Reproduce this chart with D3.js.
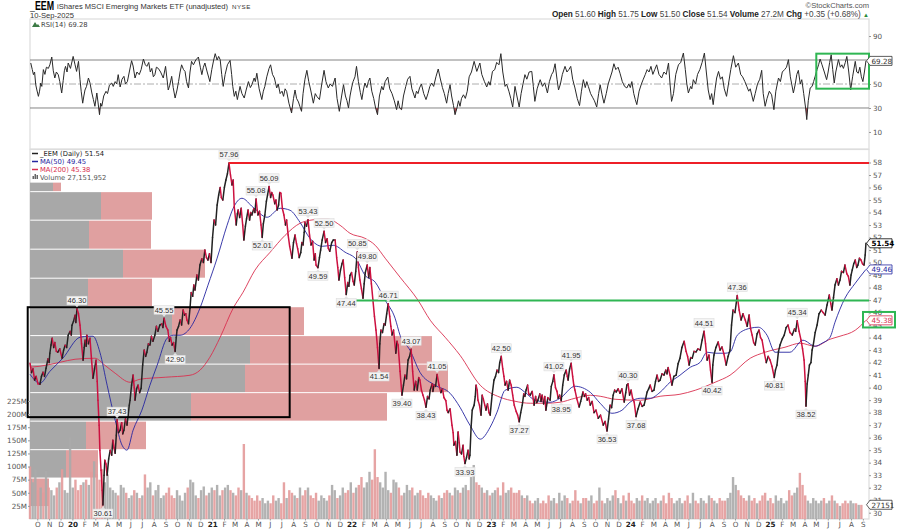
<!DOCTYPE html>
<html>
<head>
<meta charset="utf-8">
<script src="https://cdn.jsdelivr.net/npm/d3@7"></script>
<style>
  body { margin: 0; background: #fff; }
  svg { display: block; font-family: "Liberation Sans", sans-serif; }
  .tick text { font-family: "DejaVu Sans", sans-serif; font-size: 7.2px; fill: #555; }
  .tick line { stroke: #999; }
</style>
</head>
<body>
<svg id="chart" width="918" height="532"></svg>
<script>
// all series are [days since 12-Sep-2019, value]
const priceSeries = [[0,41.95],[4,41.2],[8,41.5],[12,40.6],[16,40.9],[21,40.3],[26,40.27],[30,40.9],[34,41.23],[38,40.9],[42,41.55],[47,42.3],[50,42.0],[52,42.75],[55,43.4],[58,43.95],[62,43.2],[65,43.6],[69,42.9],[73,42.83],[78,43.1],[84,42.35],[88,43.0],[92,43.39],[96,43.2],[100,44.19],[105,44.5],[108,44.2],[110,44.99],[114,45.3],[118,45.79],[120,45.2],[123,46.3],[127,45.9],[131,44.99],[135,43.5],[139,42.19],[142,43.2],[144,43.79],[147,43.3],[149,44.19],[153,43.5],[157,43.95],[161,42.3],[165,40.75],[169,41.5],[173,42.19],[176,40.5],[178,38.99],[181,37.0],[183,34.99],[186,33.4],[189,31.8],[191,30.61],[194,33.0],[196,34.2],[199,33.9],[202,33],[206,34.3],[210,35],[214,34.6],[217,35.8],[220,35.2],[223,34.75],[226,36.2],[228,37.43],[232,36.4],[236,36.6],[240,37.2],[243,36.3],[246,36.6],[250,37.5],[254,37.0],[257,37.8],[260,38.6],[262,39],[266,40.2],[270,41],[273,40.0],[275,39],[279,39.9],[283,40.2],[287,39.6],[291,39.95],[295,41.8],[299,43],[303,42.5],[306,42.83],[310,43.5],[314,43.4],[318,44.1],[322,43.7],[327,44.2],[331,44.9],[335,44.5],[340,45],[345,45.1],[348,44.8],[351,45.55],[356,44.9],[361,44.6],[365,43.7],[368,44.0],[372,43.4],[376,43.6],[380,42.9],[383,44.0],[385,44.6],[389,44.9],[393,45.4],[397,45.0],[401,46.2],[405,45.8],[408,45.9],[411,45.4],[415,45.1],[419,46.35],[422,47.6],[426,47.3],[429,48.2],[432,47.8],[437,49],[441,48.6],[445,49.8],[450,50.3],[454,50.0],[458,51],[462,50.4],[466,50.2],[470,50.7],[474,50],[478,52],[482,53.4],[486,53.0],[490,54.6],[494,55.4],[498,56],[501,55.2],[505,55],[509,56],[513,56.6],[517,57.1],[521,57.96],
  [525,57.0],[529,56.2],[532,56.6],[535,54.4],[540,53],[543,53.9],[545,54.2],[549,53.6],[553,54.35],[557,53.0],[560,51.8],[564,52.9],[567,53.5],[571,54.2],[575,53.4],[578,54.0],[581,53.8],[586,54.3],[589,54.0],[592,55.08],[595,54.2],[597,53.8],[601,54.1],[605,53.0],[608,52.01],[611,53.1],[615,53.8],[619,54.9],[622,55.4],[626,56.09],[630,55.2],[633,55.6],[636,55.4],[641,54.7],[644,55.0],[647,54.2],[651,54.6],[654,55.6],[657,55.55],[661,54.3],[665,53.8],[669,53.0],[672,53.4],[676,52.2],[680,51.3],[686,50.35],[690,51.6],[694,52.2],[698,51.5],[701,51.1],[705,50.4],[709,50.8],[712,51.6],[715,51.4],[718,52.4],[720,53.2],[724,52.9],[728,53.43],[732,52.2],[736,51.4],[740,51.7],[744,50.2],[747,50.7],[749,49.8],[754,49.59],[758,50.4],[761,51.0],[765,51.8],[770,52.5],[774,51.6],[778,51.9],[781,51.15],[785,50.9],[790,51.6],[794,51.8],[799,51.8],[803,50.4],[806,49.6],[809,48.6],[813,49.4],[817,49.9],[820,50.2],[824,48.8],[828,47.44],[832,48.4],[835,48.1],[838,48.97],[842,49.2],[846,48.5],[849,48.2],[853,49.3],[857,50.85],[860,49.6],[864,48.6],[868,47.9],[872,47.15],[875,48.3],[878,49.2],[883,49.8],[887,48.8],[890,49.6],[894,48.3],[898,47],[902,45.7],[906,44.6],[910,43.2],[914,41.54],[916,43.5],[919,44.6],[923,44.4],[927,45.1],[930,45],[934,45.9],[938,46.71],[942,45.7],[945,44.9],[948,44.2],[952,44.6],[958,42.75],[961,43.7],[964,43.4],[969,41.3],[974,39.4],[978,40.2],[982,41],[986,40.7],[990,42.2],[994,42.5],[998,43.07],[1002,41.3],[1006,39.8],[1010,40.5],[1014,39.8],[1018,40.8],[1021,40.6],[1025,39.8],[1029,39.4],[1033,39.0],[1037,38.43],[1041,39.3],[1045,39.1],[1048,39.8],[1053,40.3],[1055,39.7],[1058,40.2],[1062,40.1],[1066,41.05],[1071,40.2],[1076,39.6],[1080,39.9],[1084,39.2],[1089,38.95],[1092,38.2],[1095,38],[1100,38.3],[1105,37],[1108,36.4],[1110,35.4],[1114,35.7],[1118,34.6],[1121,36.45],[1124,35.6],[1126,34.85],[1130,34.7],[1134,35.4],[1136,34.5],[1139,33.93],[1143,34.4],[1147,35],[1150,34.3],[1152,34.6],[1155,36.8],[1158,38.2],[1163,38.6],[1166,39.3],[1168,40.2],[1171,39.8],[1173,39],[1177,38.6],[1181,37.8],[1184,39.4],[1187,39.1],[1191,38.6],[1194,38.2],[1198,38.7],[1202,38.0],[1205,37.8],[1210,39.4],[1215,40.6],[1219,40.9],[1223,41.4],[1227,41.2],[1230,42.0],[1234,42.5],
  [1238,41.5],[1241,40.9],[1244,40.2],[1248,40.5],[1252,39.8],[1256,40.6],[1260,40.2],[1264,39.4],[1268,38.6],[1273,38.1],[1277,37.8],[1281,37.27],[1285,38.0],[1289,38.6],[1293,39.5],[1296,39.3],[1299,39.8],[1303,40.2],[1306,39.5],[1310,39.4],[1315,39.7],[1320,38.6],[1324,39.3],[1327,38.8],[1330,39],[1335,39.5],[1338,38.9],[1341,39.4],[1345,38.7],[1348,39.3],[1351,38.2],[1356,39.2],[1362,39],[1365,40.1],[1369,40.5],[1372,41.02],[1376,40.0],[1380,39.7],[1383,39.15],[1387,39.4],[1391,38.95],[1395,40.2],[1399,41],[1404,41.4],[1407,40.9],[1409,40.6],[1413,41.5],[1417,41.95],[1421,40.9],[1424,40.2],[1427,39.8],[1432,39.1],[1438,38.45],[1442,38.9],[1448,39.65],[1452,39.3],[1455,39.5],[1459,39],[1463,39.2],[1467,38.6],[1472,38.9],[1477,38],[1482,38.2],[1488,37.55],[1494,37.8],[1501,37],[1506,37.3],[1511,36.53],[1515,37.5],[1519,38.6],[1523,38.4],[1527,39.4],[1531,39.8],[1535,39.65],[1540,39.9],[1545,39.55],[1550,39.9],[1556,38.85],[1560,39.6],[1563,40.2],[1566,40.3],[1570,39.4],[1574,39.8],[1578,39.15],[1582,38.85],[1587,37.68],[1592,38.3],[1598,38.85],[1603,38.5],[1608,38.6],[1612,39.1],[1616,39.65],[1620,39.9],[1624,40.2],[1629,39.7],[1634,39.8],[1638,40.5],[1642,41],[1646,40.5],[1650,40.6],[1655,41.1],[1660,41],[1665,41.4],[1668,41.1],[1671,41.6],[1676,41],[1681,40.2],[1686,40.9],[1692,41],[1697,41.9],[1702,42.35],[1707,43.2],[1713,43.7],[1718,42.9],[1722,42.5],[1726,41.8],[1730,42.4],[1734,42.35],[1739,42.9],[1744,42.85],[1749,43.1],[1755,43],[1760,43.8],[1765,44.51],[1769,43.5],[1773,42.2],[1778,42.6],[1782,41.4],[1786,40.42],[1788,41.8],[1791,42.6],[1796,43.2],[1802,43.65],[1807,43.0],[1812,43.25],[1817,42.7],[1823,41.8],[1828,42.5],[1833,43],[1837,45],[1841,46.2],[1846,46.0],[1852,47.36],[1857,46.2],[1862,45.4],[1867,45.9],[1873,45.4],[1878,44.9],[1883,45.8],[1887,44.7],[1891,44.2],[1895,43.6],[1899,43.4],[1904,44.3],[1909,44.6],[1913,44.0],[1917,43.8],[1922,42.9],[1928,42],[1933,42.5],[1938,42.2],[1943,41.7],[1949,40.81],[1952,41.4],[1956,41.8],[1960,42.9],[1964,43.4],[1970,43.9],[1975,44.2],[1980,44.8],[1985,45],[1990,44.4],[1996,44.2],[2002,44.7],[2005,44.5],[2009,45.34],[2014,44.5],[2019,43.8],[2023,43.1],[2027,42.2],[2030,40.5],[2032,38.52],[2035,40.3],[2038,41],[2041,41.8],[2045,42],[2048,43],[2051,43.4],[2056,44.4],[2061,45],[2066,45.9],[2072,46.2],[2077,46.0],[2082,45.8],[2087,46.6],[2093,47.4],[2097,46.7],[2100,46.2],[2104,47.2],[2108,48.2],[2113,48.7],[2117,48.2],[2121,48.6],[2125,49.3],[2130,49.2],[2134,49.8],[2139,49.1],[2143,48.9],[2147,48.2],[2150,49],[2153,49.4],[2157,49.9],[2161,50.2],[2165,49.6],[2168,49.8],[2172,50.35],[2176,50.2],[2180,49.9],[2184,49.8],[2187,50.6],[2189,51.54]];

const ma50Series = [[0,41.07],[26,40.35],[52,41.3],[86,42.35],[131,44.03],[155,44.11],[165,44.11],[183,42.83],[202,40.19],[223,37.4],[241,35.4],[254,35],[270,36.6],[293,38.2],[314,40.19],[333,41.79],[359,43.95],[375,44.19],[393,44.19],[419,44.75],[445,46.35],[466,48.19],[490,50.35],[516,52.98],[532,54.34],[555,55.14],[584,54.42],[621,53.62],[655,54.34],[681,54.18],[707,53.22],[733,51.94],[765,51.3],[794,51.38],[825,50.83],[856,50.19],[877,48.99],[904,48.43],[930,46.99],[956,45.55],[969,44.19],[995,42.99],[1021,41.23],[1061,40.19],[1100,39.55],[1126,38.43],[1152,37],[1179,35.88],[1205,36.84],[1223,38.04],[1244,39.79],[1275,40.03],[1296,39.63],[1323,38.99],[1362,38.83],[1388,39.15],[1427,40.11],[1467,39.63],[1493,38.75],[1524,37.95],[1550,38.19],[1571,38.83],[1598,39.15],[1624,39.15],[1650,39.63],[1676,40.43],[1702,40.99],[1729,41.63],[1755,42.03],[1773,42.83],[1794,42.75],[1820,42.75],[1833,42.83],[1852,44.19],[1886,44.75],[1907,44.83],[1930,44.19],[1951,42.83],[1990,42.83],[2024,43.79],[2056,43.31],[2074,43.55],[2095,44.03],[2108,45.23],[2134,47.15],[2161,48.35],[2189,49.45]];

const ma200Series = [[0,41.63],[26,41.71],[79,42.03],[118,42.27],[170,42.35],[196,41.79],[223,41.15],[262,40.43],[288,40.67],[354,40.83],[419,40.99],[445,41.39],[471,42.43],[498,44.03],[532,46.35],[558,47.63],[589,49.39],[629,50.83],[668,52.18],[707,53.14],[733,53.38],[760,53.46],[781,53.46],[812,52.98],[838,52.34],[877,51.94],[904,51.38],[930,50.35],[969,48.83],[1016,46.99],[1048,45.39],[1087,44.03],[1126,42.59],[1179,40.19],[1231,39.23],[1270,38.91],[1310,38.75],[1349,38.75],[1388,38.83],[1427,39.15],[1467,39.39],[1493,39.31],[1532,39.07],[1598,38.99],[1650,39.31],[1702,39.47],[1742,39.79],[1794,40.43],[1833,40.99],[1886,42.35],[1925,42.83],[1977,43.23],[2017,43.55],[2056,43.31],[2095,43.87],[2121,44.11],[2161,44.59],[2189,45.38]];

const rsiSeries = [[2,67.5],[6,62],[9,57.8],[12,60],[15,49.4],[18,45],[22,39.7],[25,44],[28,50.8],[31,48],[35,62],[39,58],[43,64],[48,63],[52,66],[57,72.5],[61,61],[65,55],[69,60],[74,57.8],[78,52],[83,42.5],[87,53],[90,61],[93,64.7],[97,60],[100,67.5],[106,63],[113,73],[118,66],[122,60.5],[127,68.9],[131,53.6],[134,44],[138,34],[141,40],[144,45],[148,48],[153,55],[157,51],[162,42.5],[166,37],[170,31.4],[175,42.5],[178,35],[182,24.4],[185,34],[188,31.4],[193,40],[199,43.9],[203,42],[208,49],[214,50.8],[218,48],[223,52],[227,50],[231,57.8],[236,47.5],[241,54],[246,56.4],[250,50],[255,52],[260,60],[266,69.4],[270,65],[275,55],[280,60],[286,57.8],[291,62],[297,70.8],[302,66],[306,64.7],[311,68],[315,60],[319,63],[323,56],[327,57.8],[331,64],[336,63],[342,60],[349,55],[355,64.7],[362,45],[366,49],[371,56.4],[375,47],[380,38.3],[385,45],[389,52],[393,60],[397,66],[402,62],[406,60.5],[410,52],[415,46.7],[419,60],[423,68.9],[428,66],[434,70],[441,72.5],[446,64],[450,57.8],[454,64],[458,67.5],[464,60],[471,52],[476,62],[481,70],[485,75.3],[490,70],[494,73],[498,70.3],[502,58],[506,48],[511,58],[517,66],[524,69.7],[528,58],[531,48],[535,39.7],[539,44],[543,37],[550,48],[555,42],[561,38.3],[566,45],[572,52],[577,47],[581,49.4],[587,55],[590,52],[594,59],[600,46],[607,37],[611,44],[615,48],[620,56],[626,63],[630,66],[635,58],[640,55],[646,46.7],[650,50],[655,42],[660,44],[664,39.7],[668,46],[672,43.9],[678,34],[685,25.8],[690,38],[694,45],[698,38],[703,35],[707,31],[711,27.2],[715,42],[720,54],[725,61.4],[730,52],[735,45],[742,34],[747,42],[751,39.7],[758,37],[764,50],[770,61.4],[775,52],[781,46.7],[786,50],[792,48],[799,55],[804,38],[810,27.2],[816,40],[821,49.4],[826,40],[830,36],[834,30],[838,40],[842,46.7],[846,52],[851,56],[855,64.7],[860,52],[865,43],[869,37],[873,45],[877,50.8],[882,47],[886,52],[890,55],[895,44],[900,38],[905,30],[910,24.4],[915,40],[921,48],[925,45],[930,52],[937,55.8],[942,46],[948,42],[954,36],[960,28.6],[964,36],[968,30],[973,28.6],[978,40],[984,48],[989,54],[995,56.4],[1000,46],[1008,38.3],[1012,44],[1016,42],[1020,46.7],[1025,50],[1031,42],[1037,37],[1042,42],[1047,48],[1052,50.8],[1057,48],[1063,56],[1069,62.5],[1074,55],[1080,47],[1085,42],[1091,34],[1095,42],[1100,49.4],[1104,40],[1109,32],[1113,24.4],[1118,30],[1122,36],[1126,31.4],
  [1130,38],[1135,41],[1140,38],[1145,44],[1150,56],[1156,60],[1163,68.9],[1170,60.5],[1178,67.5],[1183,58],[1190,52],[1196,47.5],[1201,52],[1205,49],[1211,60.5],[1217,62],[1222,68],[1228,66],[1233,75.3],[1238,60],[1244,48],[1248,50],[1254,44],[1259,38],[1264,30.8],[1270,48],[1275,40],[1281,30.8],[1286,42],[1291,50],[1296,57.8],[1301,54],[1307,60],[1314,60.5],[1318,48],[1322,35.5],[1328,46],[1332,50],[1336,53.6],[1342,48],[1348,51],[1355,42.5],[1360,52],[1366,58],[1370,60],[1375,66.9],[1380,54],[1384,45],[1389,50],[1394,58],[1401,64.7],[1406,60],[1411,62],[1416,64.7],[1421,54],[1427,46.7],[1433,38],[1439,32],[1444,44],[1449,53.6],[1454,47],[1458,52],[1462,48],[1468,42],[1473,39],[1478,36],[1484,30.8],[1489,42],[1493,49.4],[1498,41],[1503,34],[1509,42],[1514,50],[1519,55],[1524,60],[1529,66.9],[1534,62],[1540,64],[1545,59],[1551,52],[1557,48],[1563,46.7],[1568,50],[1572,47],[1576,52],[1581,42],[1585,37],[1589,32.8],[1595,44],[1601,50],[1606,54],[1611,57.8],[1616,62],[1621,60],[1626,64.7],[1631,58],[1636,62],[1641,66],[1647,58],[1654,55],[1660,60],[1666,58],[1672,67.5],[1676,50],[1680,35.5],[1685,42],[1691,58],[1698,66],[1704,68],[1711,75.8],[1716,62],[1720,50],[1724,42.5],[1730,48],[1733,46],[1737,53.6],[1743,50],[1748,58],[1754,62],[1760,68],[1766,75.8],[1771,60],[1776,45],[1781,37],[1785,42],[1789,32.8],[1794,46],[1798,55],[1803,60.5],[1808,54],[1813,56],[1818,46],[1824,39.7],[1829,50],[1835,62],[1842,73.6],[1848,64],[1855,67.5],[1861,58],[1866,56],[1872,52],[1877,48],[1882,44],[1886,46],[1894,35.5],[1899,42],[1905,50],[1911,54],[1916,61.4],[1920,42],[1925,31.4],[1930,38],[1936,44],[1942,41],[1948,28.6],[1953,44],[1960,55],[1965,52],[1970,60],[1976,62],[1981,64],[1986,70.3],[1991,56],[1999,42.5],[2004,50],[2008,58],[2012,61.4],[2017,50],[2021,53.6],[2026,42],[2031,30],[2034,20.3],[2038,36],[2043,46.7],[2048,48],[2052,52],[2056,56.4],[2061,62],[2065,66],[2069,70.8],[2074,66],[2080,60],[2086,53.6],[2090,60],[2094,68],[2098,74.4],[2102,62],[2106,50.8],[2110,60],[2117,70.3],[2122,64],[2126,66],[2130,63],[2135,68],[2139,73],[2144,60],[2149,45],[2154,56],[2161,68.9],[2165,60],[2169,59],[2173,64],[2177,56],[2181,52],[2185,60],[2189,69.28]];

// one volume per week, millions of shares
const weeklyVolumes = [
  100,70,95,55,60,50,92,60,55,45,60,70,95,55,50,156,60,75,55,65,70,75,65,90,110,85,
  75,95,70,85,60,55,50,45,65,60,50,40,45,55,50,40,45,85,60,70,45,55,65,40,45,50,
  60,45,40,55,45,35,50,60,75,70,45,40,55,62,45,50,60,55,65,45,55,60,65,55,50,45,
  60,55,143,50,45,40,35,45,35,40,30,35,30,45,35,40,30,70,40,55,50,45,40,60,45,55,
  60,45,40,50,35,45,40,35,45,65,55,40,45,60,50,55,70,50,60,65,80,60,70,90,75,133,
  80,70,60,90,55,50,75,70,60,45,50,65,55,60,45,50,55,45,40,50,45,40,35,45,40,50,
  55,50,45,60,55,50,60,65,55,80,103,70,65,60,50,55,45,50,55,60,45,70,50,55,60,50,
  50,55,45,40,45,35,30,35,40,30,35,30,45,35,40,30,50,35,45,40,30,35,55,35,30,40,
  40,35,45,30,35,60,35,30,40,35,45,55,40,30,45,35,50,35,30,40,35,45,35,40,30,35,
  40,30,35,45,30,50,40,30,35,40,30,35,45,30,50,35,30,40,35,30,45,40,35,30,40,35,
  35,40,50,80,65,55,45,40,35,45,35,40,30,35,45,50,35,40,30,45,35,40,30,35,55,45,
  50,60,88,65,45,35,30,40,35,30,35,40,30,35,45,35,30,25,30,35,30,35,30,30,27,27];

// volume by price: price edges of the rows, then up and down volume of each row
const vbpEdges = [56.43,55.67,53.39,51.07,48.75,46.47,44.16,41.88,39.6,37.32,35.04,32.77,30.49];
const vbpUp = [23,71,59,93,58,142,220,215,161,56,36,2];
const vbpDown = [8,51,62,82,64,132,182,203,196,60,32,17];

// [day, price, side]
const callouts = [[521,57.96,"up"],[626,56.09,"up"],[592,55.08,"up"],[608,52.01,"down"],[728,53.43,"up"],[770,52.5,"up"],[857,50.85,"up"],[883,49.8,"up"],[754,49.59,"down"],[828,47.44,"down"],[938,46.71,"up"],[123,46.3,"up"],[351,45.55,"up"],[380,42.9,"down"],[228,37.43,"up"],[191,30.61,"down"],[998,43.07,"up"],[914,41.54,"down"],[974,39.4,"down"],[1037,38.43,"down"],[1066,41.05,"up"],[1139,33.93,"down"],[1234,42.5,"up"],[1281,37.27,"down"],[1372,41.02,"up"],[1391,38.95,"down"],[1417,41.95,"up"],[1511,36.53,"down"],[1566,40.3,"up"],[1587,37.68,"down"],[1765,44.51,"up"],[1786,40.42,"down"],[1852,47.36,"up"],[2009,45.34,"up"],[1949,40.81,"down"],[2032,38.52,"down"]];

const priceTicks = d3.range(30, 59);
const rsiTicks = [10, 30, 50, 90];
const volumeTicks = [25, 50, 75, 100, 125, 150, 175, 200, 225];
const monthLetters = ["J","F","M","A","M","J","J","A","S","O","N","D"];

const svg = d3.select("#chart");
const dayToDate = d => new Date(2019, 8, 12 + d);

// scales
const left = 30, right = 869;
const x = d3.scaleTime().domain([dayToDate(0), dayToDate(2197)]).range([left, right]);
const yRsi = d3.scaleLinear().domain([104.2, -4.2]).range([19, 149]);
const yPrice = d3.scaleLinear().domain([58, 30]).range([162.5, 512.7]);
const yVol = d3.scaleLinear().domain([0, 225]).range([519, 401]);
const vbpX = d3.scaleLinear().domain([0, 418]).range([left, 448]);

const lineOf = (yScale, curve) => d3.line()
  .x(d => x(dayToDate(d[0])))
  .y(d => yScale(d[1]))
  .curve(curve);

// panel frames
svg.append("rect").attr("x", left).attr("y", 19).attr("width", right - left).attr("height", 130)
  .attr("fill", "none").attr("stroke", "#ddd").attr("stroke-width", 1.2);
svg.append("rect").attr("x", left).attr("y", 149.5).attr("width", right - left).attr("height", 369.5)
  .attr("fill", "none").attr("stroke", "#ddd").attr("stroke-width", 1.2);

// header
svg.append("text").attr("x", 30).attr("y", 10).attr("font-size", 12).attr("font-weight", "bold")
  .attr("textLength", 24).attr("lengthAdjust", "spacingAndGlyphs").text("_EEM");
svg.append("text").attr("x", 57).attr("y", 8.5).attr("font-size", 8).attr("fill", "#333")
  .attr("textLength", 171).attr("lengthAdjust", "spacingAndGlyphs")
  .text("iShares MSCI Emerging Markets ETF (unadjusted)");
svg.append("text").attr("x", 232).attr("y", 8.5).attr("font-size", 6.2).attr("letter-spacing", 0.5).attr("fill", "#333").text("NYSE");
svg.append("text").attr("x", 30).attr("y", 17.5).attr("font-size", 7.6).attr("fill", "#333").text("10-Sep-2025");
svg.append("text").attr("x", right).attr("y", 8).attr("text-anchor", "end").attr("font-size", 7.6).attr("fill", "#555").text("©StockCharts.com");

const quote = [["Open","51.60"],["High","51.75"],["Low","51.50"],["Close","51.54"],["Volume","27.2M"],["Chg","+0.35 (+0.68%)"]];
const quoteText = svg.append("text").attr("x", right).attr("y", 17).attr("text-anchor", "end").attr("font-size", 8.2);
quote.forEach(q => {
  quoteText.append("tspan").attr("font-weight", "bold").attr("fill", "#222").text(q[0] + " ");
  quoteText.append("tspan").attr("fill", "#444").text(q[1] + "  ");
});
quoteText.append("tspan").attr("fill", "#2a8a3a").attr("font-size", 6).text("▲");

// RSI panel
svg.append("defs").append("clipPath").attr("id", "below30").append("rect")
  .attr("x", left).attr("width", right - left).attr("y", yRsi(30)).attr("height", 40);

[70, 30].forEach(v => {
  svg.append("line").attr("x1", left).attr("x2", right).attr("y1", yRsi(v)).attr("y2", yRsi(v))
    .attr("stroke", "#777").attr("stroke-width", 0.9);
});
svg.append("line").attr("x1", left).attr("x2", right).attr("y1", yRsi(50)).attr("y2", yRsi(50))
  .attr("stroke", "#999").attr("stroke-width", 0.8).attr("stroke-dasharray", "7 2 2 2");

svg.append("path").datum(rsiSeries).attr("clip-path", "url(#below30)").attr("fill", "#b5474f")
  .attr("d", d3.area().x(d => x(dayToDate(d[0]))).y0(yRsi(30)).y1(d => yRsi(d[1])));
svg.append("path").datum(rsiSeries).attr("fill", "none").attr("stroke", "#2a2a2a").attr("stroke-width", 1)
  .attr("d", lineOf(yRsi, d3.curveLinear));

svg.append("path").attr("d", "M32 27 L35 22 L37 25 L38 24 L40 27 Z").attr("fill", "#3c7a45");
svg.append("text").attr("x", 41).attr("y", 27).attr("font-family", "DejaVu Sans").attr("font-size", 6.8)
  .attr("fill", "#444").text("RSI(14) 69.28");

const rsiAxis = svg.append("g").attr("transform", `translate(${right},0)`)
  .call(d3.axisRight(yRsi).tickValues(rsiTicks).tickSize(2).tickPadding(2));
rsiAxis.select(".domain").remove();

// volume by price behind everything
const vbpRows = vbpUp.map((u, i) => ({ up: u, down: vbpDown[i], top: vbpEdges[i], bottom: vbpEdges[i + 1] }));
svg.append("g").selectAll("rect").data(vbpRows).join("rect")
  .attr("x", left).attr("y", d => yPrice(d.top) + 0.5)
  .attr("width", d => vbpX(d.up) - left).attr("height", d => yPrice(d.bottom) - yPrice(d.top) - 1)
  .attr("fill", "#a8a8a8");
svg.append("g").selectAll("rect").data(vbpRows).join("rect")
  .attr("x", d => vbpX(d.up)).attr("y", d => yPrice(d.top) + 0.5)
  .attr("width", d => vbpX(d.down) - left).attr("height", d => yPrice(d.bottom) - yPrice(d.top) - 1)
  .attr("fill", "#e0a0a0");

// volume bars take their colour from the price move of that week
const bisectDay = d3.bisector(d => d[0]).left;
const isUpWeek = day => {
  const i = Math.min(priceSeries.length - 1, Math.max(1, bisectDay(priceSeries, day)));
  return priceSeries[i][1] >= priceSeries[i - 1][1];
};
svg.append("g").selectAll("rect").data(weeklyVolumes).join("rect")
  .attr("x", (d, i) => x(dayToDate(i * 7)) - 1.2)
  .attr("y", d => yVol(d))
  .attr("width", 2.4)
  .attr("height", d => yVol(0) - yVol(d))
  .attr("fill", (d, i) => isUpWeek(i * 7) ? "#aaaaaa" : "#e39a9a")
  .attr("opacity", 0.9);

// moving averages
svg.append("path").datum(ma200Series).attr("fill", "none").attr("stroke", "#d9304f").attr("stroke-width", 0.9)
  .attr("d", lineOf(yPrice, d3.curveMonotoneX));
svg.append("path").datum(ma50Series).attr("fill", "none").attr("stroke", "#2626a0").attr("stroke-width", 0.9)
  .attr("d", lineOf(yPrice, d3.curveMonotoneX));

// price, black when rising and red when falling
svg.append("g").selectAll("line").data(d3.pairs(priceSeries)).join("line")
  .attr("x1", d => x(dayToDate(d[0][0]))).attr("y1", d => yPrice(d[0][1]))
  .attr("x2", d => x(dayToDate(d[1][0]))).attr("y2", d => yPrice(d[1][1]))
  .attr("stroke", d => d[1][1] >= d[0][1] ? "#222" : "#cc1140")
  .attr("stroke-width", 1.5).attr("stroke-linecap", "round");

// drawn annotations
svg.append("line").attr("x1", x(dayToDate(521))).attr("x2", right).attr("y1", yPrice(57.96)).attr("y2", yPrice(57.96))
  .attr("stroke", "#ee1f27").attr("stroke-width", 2);
svg.append("line").attr("x1", x(dayToDate(824))).attr("x2", right).attr("y1", yPrice(46.97)).attr("y2", yPrice(46.97))
  .attr("stroke", "#2fb653").attr("stroke-width", 2);
svg.append("rect").attr("x", x(dayToDate(-6))).attr("y", yPrice(46.43))
  .attr("width", x(dayToDate(680)) - x(dayToDate(-6))).attr("height", yPrice(37.64) - yPrice(46.43))
  .attr("fill", "none").attr("stroke", "#000").attr("stroke-width", 2);
svg.append("rect").attr("x", x(dayToDate(2059))).attr("y", yRsi(75.3))
  .attr("width", right - x(dayToDate(2059))).attr("height", yRsi(46.1) - yRsi(75.3))
  .attr("fill", "none").attr("stroke", "#2fb653").attr("stroke-width", 2);

// high and low callouts
const calloutGroup = svg.append("g").selectAll("g").data(callouts).join("g")
  .attr("transform", d => `translate(${x(dayToDate(d[0]))},${yPrice(d[1])})`);
calloutGroup.append("path")
  .attr("d", d => d[2] === "up" ? "M-3 -5 L0 -1.5 L3 -5 Z" : "M-3 5 L0 1.5 L3 5 Z")
  .attr("fill", "#e4e4e4");
calloutGroup.append("rect")
  .attr("x", -10).attr("width", 20).attr("height", 8.6)
  .attr("y", d => d[2] === "up" ? -12.6 : 4)
  .attr("fill", "#f3f3f3").attr("stroke", "#ddd").attr("stroke-width", 0.6);
calloutGroup.append("text")
  .attr("text-anchor", "middle").attr("font-size", 7.5).attr("fill", "#333")
  .attr("y", d => d[2] === "up" ? -5.6 : 11)
  .text(d => d[1].toFixed(2));

// axes
const priceAxis = svg.append("g").attr("transform", `translate(${right},0)`)
  .call(d3.axisRight(yPrice).tickValues(priceTicks).tickSize(2).tickPadding(2));
priceAxis.select(".domain").remove();

const volAxis = svg.append("g").attr("transform", `translate(${left},0)`)
  .call(d3.axisLeft(yVol).tickValues(volumeTicks).tickFormat(d => d + "M").tickSize(2).tickPadding(1));
volAxis.select(".domain").remove();

const monthStarts = d3.timeMonth.range(new Date(2019, 9, 1), new Date(2025, 9, 1));
const timeAxis = svg.append("g").attr("transform", "translate(0,519)")
  .call(d3.axisBottom(x).tickValues(monthStarts).tickSize(1.5).tickPadding(1)
    .tickFormat(d => d.getMonth() === 0 ? d3.timeFormat("%y")(d) : monthLetters[d.getMonth()]));
timeAxis.select(".domain").remove();
timeAxis.selectAll("text").attr("font-weight", d => d.getMonth() === 0 ? "bold" : null)
  .style("fill", d => d.getMonth() === 0 ? "#222" : "#555");

// legend
const legendRows = [
  { label: "_EEM (Daily) 51.54", color: "#222" },
  { label: "MA(50) 49.45", color: "#2626a0" },
  { label: "MA(200) 45.38", color: "#d9304f" }
];
legendRows.forEach((row, i) => {
  const ly = 156 + i * 8;
  svg.append("line").attr("x1", 32).attr("x2", 38).attr("y1", ly - 2.5).attr("y2", ly - 2.5)
    .attr("stroke", row.color).attr("stroke-width", 1.5);
  svg.append("text").attr("x", 40).attr("y", ly).attr("font-family", "DejaVu Sans").attr("font-size", 6.8)
    .attr("fill", row.color).text(row.label);
});
svg.append("g").selectAll("rect").data([3, 5, 4]).join("rect")
  .attr("x", (d, i) => 32.5 + i * 2).attr("y", d => 179 - d).attr("width", 1.5).attr("height", d => d).attr("fill", "#666");
svg.append("text").attr("x", 40).attr("y", 180).attr("font-family", "DejaVu Sans").attr("font-size", 6.8)
  .attr("fill", "#555").text("Volume 27,151,952");

// value tags on the right axis
const tags = [
  { y: yPrice(51.54), label: "51.54", color: "#000", bold: true },
  { y: yPrice(49.45), label: "49.46", color: "#2626a0" },
  { y: yPrice(45.38), label: "45.38", color: "#d9304f" },
  { y: yRsi(69.28), label: "69.28", color: "#333" },
  { y: yVol(27.15), label: "27151", color: "#333" }
];
const tagGroup = svg.append("g").selectAll("g").data(tags).join("g")
  .attr("transform", d => `translate(${right},${d.y})`);
tagGroup.append("path")
  .attr("d", "M-2.5 0 L1 -4.5 L23 -4.5 L23 4.5 L1 4.5 Z")
  .attr("fill", "#fff").attr("stroke", d => d.color).attr("stroke-width", 0.8);
tagGroup.append("text").attr("x", 2.5).attr("y", 2.8)
  .attr("font-family", "DejaVu Sans").attr("font-size", 7.2)
  .attr("font-weight", d => d.bold ? "bold" : null).attr("fill", d => d.color).text(d => d.label);

// green box around the MA(200) tag
svg.append("rect").attr("x", right - 6).attr("y", yPrice(46.05))
  .attr("width", 32).attr("height", yPrice(44.81) - yPrice(46.05))
  .attr("fill", "none").attr("stroke", "#2fb653").attr("stroke-width", 2);
</script>
</body>
</html>
